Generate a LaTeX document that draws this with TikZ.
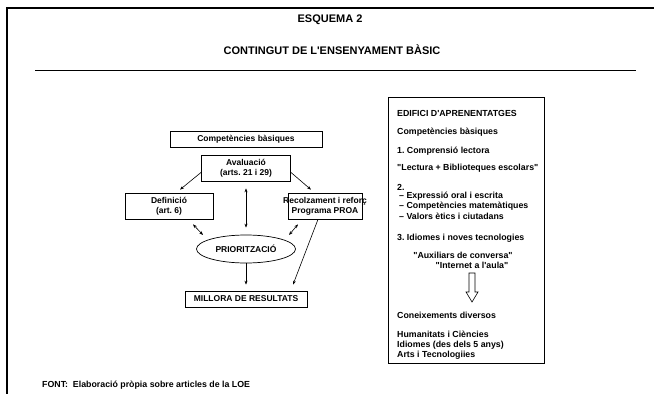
\documentclass[tikz,border=0pt]{standalone}
\usepackage{fontspec}
\setmainfont{Liberation Sans}[Ligatures=TeXOff]
\usetikzlibrary{arrows.meta,shapes.geometric,calc}
\frenchspacing
\begin{document}
\frenchspacing
\begin{tikzpicture}[x=1pt,y=-1pt,
  box/.style={draw,line width=0.7pt,inner sep=0pt,align=center,font=\bfseries\fontsize{8.5}{10}\selectfont},
  arr/.style={-{Stealth[length=4pt,width=3pt]},line width=0.6pt},
  darr/.style={{Stealth[length=4pt,width=3pt]}-{Stealth[length=4pt,width=3pt]},line width=0.6pt},
  txt/.style={anchor=west,inner sep=0pt,font=\bfseries\fontsize{8.8}{10}\selectfont},
  txtc/.style={inner sep=0pt,font=\bfseries\fontsize{8.8}{10}\selectfont},
  ttl/.style={inner sep=0pt,font=\bfseries\fontsize{11}{13}\selectfont}]
\useasboundingbox (0,0) rectangle (654,394);
\draw[line width=1.3pt] (7,394) -- (7,8) -- (654,8);
\node[ttl] (t1) at (330,20) {ESQUEMA 2};
\node[ttl] (t2) at (332,50) {CONTINGUT DE L'ENSENYAMENT BÀSIC};
\draw[line width=0.9pt] (35,70) -- (636,70);

% left diagram
\node[box,minimum width=152pt,minimum height=16pt] (comp) at (246,139) {Competències bàsiques};
\node[box,minimum width=89pt,minimum height=26pt] (aval) at (246,168) {Avaluació\\(arts. 21 i 29)};
\node[box,minimum width=88pt,minimum height=26pt] (defi) at (169,206) {Definició\\(art. 6)};
\node[box,minimum width=74pt,minimum height=26pt] (recol) at (325,206) {\makebox[70pt][c]{Recolzament i reforç}\\Programa PROA};
\node[draw,ellipse,line width=0.7pt,minimum width=99pt,minimum height=28pt,inner sep=0pt,font=\bfseries\fontsize{8.5}{10}\selectfont] (prior) at (246,249) {PRIORITZACIÓ};
\node[box,minimum width=122pt,minimum height=16pt] (mill) at (246,299) {MILLORA DE RESULTATS};

\draw[arr] ([yshift=9pt]aval.south west) -- ([xshift=11pt,yshift=3pt]defi.north);
\draw[arr] ([yshift=9pt]aval.south east) -- ([xshift=-14pt,yshift=3pt]recol.north);
\draw[darr] ([yshift=-7pt]aval.south) -- ([yshift=7pt]prior.north);
\draw[darr] ([xshift=24pt,yshift=-5pt]defi.south) -- ([xshift=-43pt,yshift=14pt]prior.center);
\draw[darr] ([xshift=-27pt,yshift=-5pt]recol.south) -- ([xshift=43pt,yshift=14pt]prior.center);
\draw[arr] (prior.south) -- ([yshift=6pt]mill.north);
\draw[arr] ([xshift=-7pt]recol.south) -- ([xshift=47pt,yshift=6pt]mill.north);

% right box
\node[draw,line width=0.7pt,minimum width=156pt,minimum height=266pt,inner sep=0pt] (edif) at (466,230) {};
\node[txt] (r1) at (397,113) {EDIFICI D'APRENENTATGES};
\node[txt] (r2) at (397,132) {Competències bàsiques};
\node[txt] (r3) at (397,151) {1. Comprensió lectora};
\node[txt] (r4) at (397,168) {"Lectura + Biblioteques escolars"};
\node[txt] (r5) at (397,187) {2.};
\node[txt] (r6) at (399,196) {– Expressió oral i escrita};
\node[txt] (r7) at (399,206) {– Competències matemàtiques};
\node[txt] (r8) at (399,216) {– Valors ètics i ciutadans};
\node[txt] (r9) at (397,238) {3. Idiomes i noves tecnologies};
\node[txtc] (r10) at (463,255) {"Auxiliars de conversa"};
\node[txtc] (r11) at (472,265) {"Internet a l'aula"};
\draw[line width=0.6pt,fill=white] (469,273) -- (475,273) -- (475,292) -- (478,292) -- (472,302) -- (466,292) -- (469,292) -- cycle;
\node[txt] (r12) at (397,315) {Coneixements diversos};
\node[txt] (r13) at (397,334) {Humanitats i Ciències};
\node[txt] (r14) at (397,345) {Idiomes (des dels 5 anys)};
\node[txt] (r15) at (397,355) {Arts i Tecnologiies};

\node[txt] (foot) at (42,385) {FONT:\ \ Elaboració pròpia sobre articles de la LOE};
\end{tikzpicture}
\end{document}
